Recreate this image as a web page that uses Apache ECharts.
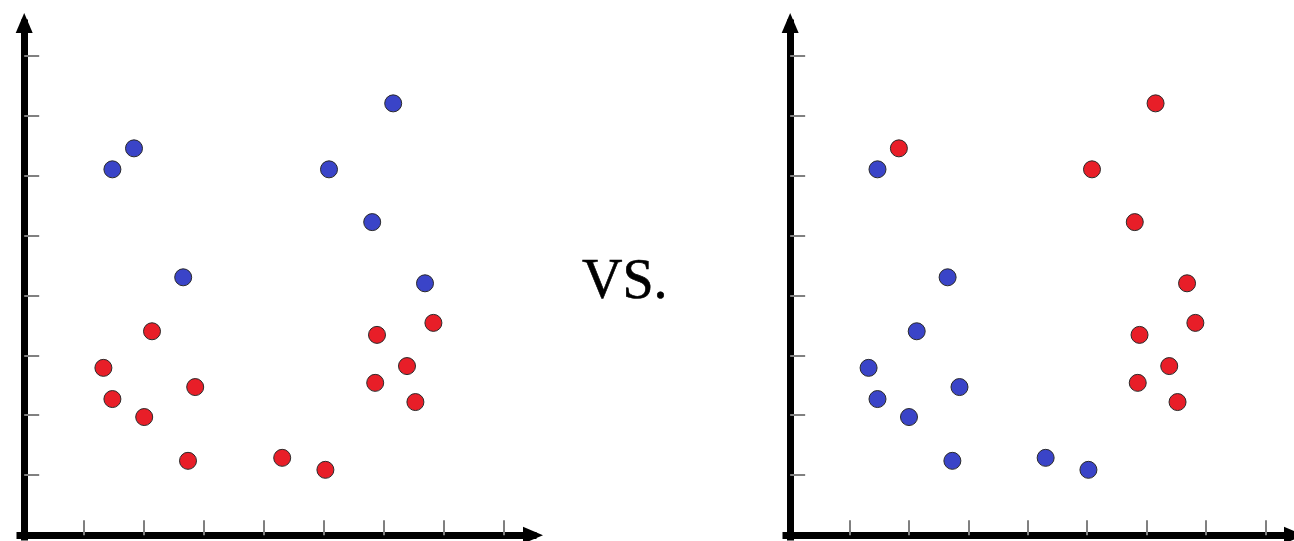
<!DOCTYPE html>
<html>
<head>
<meta charset="utf-8">
<script src="https://cdn.jsdelivr.net/npm/echarts@6/dist/echarts.min.js"></script>
<style>
  html, body { margin: 0; padding: 0; background: #ffffff; }
  #chart { width: 1294px; height: 541px; }
</style>
</head>
<body>
<div id="chart"></div>
<script>
// ---- data ----
const pointX = [1.47, 1.83, 2.65, 5.08, 6.15, 5.80, 6.68, 1.32, 1.47, 2.00, 2.13, 2.85, 2.73, 4.30, 5.02, 5.88, 5.85, 6.38, 6.82, 6.52];
const pointY = [6.10, 6.45, 4.30, 6.10, 7.20, 5.22, 4.20, 2.79, 2.27, 1.97, 3.40, 2.47, 1.24, 1.29, 1.09, 3.34, 2.54, 2.82, 3.54, 2.22];
// class of each point in the left panel and in the right panel
const leftClass  = ['blue','blue','blue','blue','blue','blue','blue','red','red','red','red','red','red','red','red','red','red','red','red','red'];
const rightClass = ['blue','red','blue','red','red','red','red','blue','blue','blue','blue','blue','blue','blue','blue','red','red','red','red','red'];
const xTicks = [1, 2, 3, 4, 5, 6, 7, 8];
const yTicks = [1, 2, 3, 4, 5, 6, 7, 8];
const middleText = 'VS.';

// ---- build ----
const COLORS = { blue: '#3a44c8', red: '#e81e28' };
const X_MIN = -0.07, X_MAX = 8.48, Y_MIN = -0.03, Y_MAX = 8.54;

function pick(classes, cls) {
  const out = [];
  for (let i = 0; i < pointX.length; i++) {
    if (classes[i] === cls) out.push([pointX[i], pointY[i]]);
  }
  return out;
}

function axisCommon(ticks) {
  return {
    type: 'value',
    splitLine: { show: false },
    axisLabel: { show: false },
    axisLine: {
      show: true,
      symbol: ['none', 'triangle'],
      symbolSize: [17, 20],
      lineStyle: { color: '#000000', width: 7, cap: 'square' }
    },
    axisTick: {
      show: true,
      inside: true,
      length: 15,
      customValues: ticks,
      lineStyle: { color: '#808080', width: 2 }
    }
  };
}

const grids = [
  { left: 20, width: 513, top: 23, bottom: 4 },
  { left: 786, width: 513, top: 23, bottom: 4 }
];

const xAxes = [0, 1].map(i => Object.assign(axisCommon(xTicks), { gridIndex: i, min: X_MIN, max: X_MAX }));
const yAxes = [0, 1].map(i => Object.assign(axisCommon(yTicks), { gridIndex: i, min: Y_MIN, max: Y_MAX }));

function scatter(idx, data, color) {
  return {
    type: 'scatter',
    xAxisIndex: idx,
    yAxisIndex: idx,
    data: data,
    symbol: 'circle',
    symbolSize: 17,
    itemStyle: { color: color, opacity: 1, borderColor: '#2a2a2a', borderWidth: 1 },
    emphasis: { disabled: true },
    silent: true
  };
}

const series = [
  scatter(0, pick(leftClass, 'blue'), COLORS.blue),
  scatter(0, pick(leftClass, 'red'), COLORS.red),
  scatter(1, pick(rightClass, 'blue'), COLORS.blue),
  scatter(1, pick(rightClass, 'red'), COLORS.red)
];

const chart = echarts.init(document.getElementById('chart'), null, { renderer: 'canvas' });
chart.setOption({
  animation: false,
  backgroundColor: '#ffffff',
  grid: grids,
  xAxis: xAxes,
  yAxis: yAxes,
  series: series,
  graphic: [{
    type: 'text',
    x: 582,
    y: 283,
    style: {
      text: middleText,
      font: '56px "Liberation Serif", "Times New Roman", serif',
      fill: '#000000',
      stroke: '#000000',
      lineWidth: 0.6,
      textAlign: 'left',
      textVerticalAlign: 'middle'
    }
  }]
});
</script>
</body>
</html>
